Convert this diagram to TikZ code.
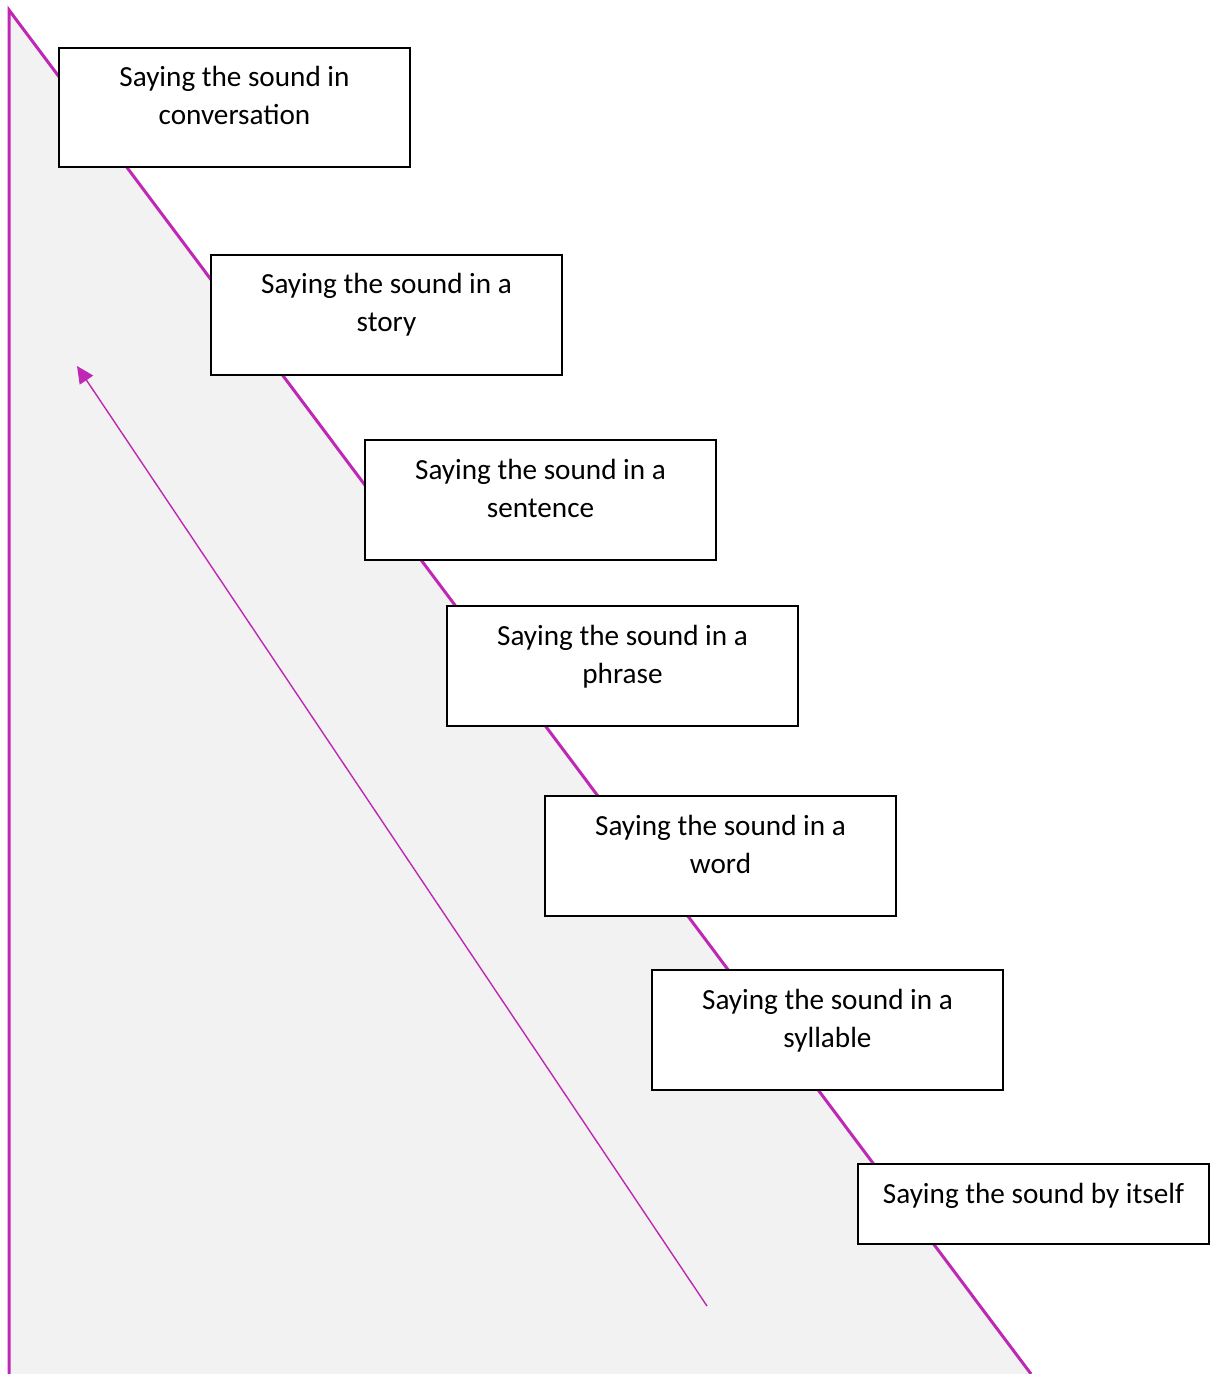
\documentclass[tikz,border=0pt]{standalone}
\usepackage{fontspec}
\setmainfont{Carlito}
\usetikzlibrary{arrows.meta}
\definecolor{stairline}{RGB}{190,40,180}
\definecolor{stairfill}{RGB}{242,242,242}
\newcommand{\boxtext}[2]{\parbox[c][#1][t]{175.5pt}{\centering\rule{0pt}{19.5pt}#2}}

\begin{document}
\begin{tikzpicture}[x=0.5pt, y=-0.5pt,
  stage/.style={draw, line width=1pt, fill=white, inner sep=0pt, anchor=north west,
    font=\fontsize{14.6}{19}\selectfont}]
\useasboundingbox (0,0) rectangle (1217,1374);
% the slope
\coordinate (top) at (9,10);
\coordinate (low) at (9,1374);
\coordinate (foot) at (1031,1374);
\fill[stairfill] (low) -- (top) -- (foot) -- cycle;
\draw[stairline, line width=1.5pt] (low) -- (top) -- (foot);
% the arrow upwards
\coordinate (tail) at (707,1306);
\coordinate (head) at (77,366);
\draw[stairline, line width=0.7pt, -{Triangle[length=8.5pt,width=8pt]}] (tail) -- (head);
% the steps
\node[stage] (conv) at (58,47) {\boxtext{59.75pt}{Saying the sound in\\ conversation}};
\node[stage] (story) at (210,254) {\boxtext{59.75pt}{Saying the sound in a\\ story}};
\node[stage] (sent) at (364,439) {\boxtext{59.75pt}{Saying the sound in a\\ sentence}};
\node[stage] (phr) at (446,605) {\boxtext{59.75pt}{Saying the sound in a\\ phrase}};
\node[stage] (word) at (544,795) {\boxtext{59.75pt}{Saying the sound in a\\ word}};
\node[stage] (syl) at (651,969) {\boxtext{59.75pt}{Saying the sound in a\\ syllable}};
\node[stage] (self) at (857,1163) {\boxtext{40pt}{Saying the sound by itself}};
\end{tikzpicture}
\end{document}
